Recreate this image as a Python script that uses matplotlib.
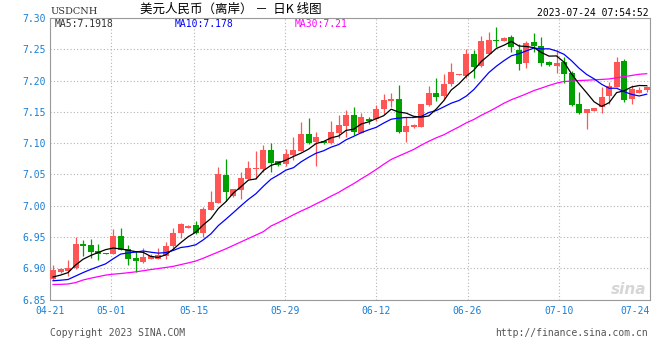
import numpy as np
import pandas as pd
import matplotlib
matplotlib.use("Agg")
import matplotlib.pyplot as plt

# ---------------- data ----------------
opens = [6.8825, 6.8932, 6.8953, 6.8996, 6.9395, 6.9374, 6.9278, 6.9246, 6.9230, 6.9518,
         6.9305, 6.9166, 6.9102, 6.9145, 6.9155, 6.9198, 6.9357, 6.9570, 6.9635, 6.9688,
         6.9560, 6.9933, 7.0050, 7.0492, 7.0150, 7.0252, 7.0428, 7.0593, 7.0593, 7.0891,
         7.0710, 7.0667, 7.0812, 7.0881, 7.1147, 7.1025, 7.1030, 7.0998, 7.1158, 7.1275,
         7.1451, 7.1169, 7.1387, 7.1381, 7.1541, 7.1680, 7.1706, 7.1184, 7.1253, 7.1253,
         7.1605, 7.1802, 7.1749, 7.1951, 7.2095, 7.2068, 7.2425, 7.2228, 7.2425, 7.2649,
         7.2638, 7.2691, 7.2494, 7.2281, 7.2610, 7.2553, 7.2298, 7.2234, 7.2298, 7.2117,
         7.1627, 7.1488, 7.1520, 7.1573, 7.1754, 7.1904, 7.2314, 7.1701, 7.1808, 7.1850]
highs = [6.9054, 6.9000, 6.9134, 6.9496, 6.9454, 6.9470, 6.9390, 6.9250, 6.9624, 6.9640,
         6.9370, 6.9283, 6.9321, 6.9230, 6.9320, 6.9420, 6.9650, 6.9730, 6.9690, 6.9762,
         6.9986, 7.0236, 7.0614, 7.0747, 7.0270, 7.0540, 7.0715, 7.0870, 7.0970, 7.1000,
         7.0720, 7.0912, 7.1094, 7.1344, 7.1397, 7.1170, 7.1040, 7.1360, 7.1451, 7.1530,
         7.1573, 7.1488, 7.1424, 7.1610, 7.1786, 7.1807, 7.1935, 7.1424, 7.1300, 7.1630,
         7.1908, 7.2042, 7.2105, 7.2281, 7.2110, 7.2510, 7.2494, 7.2707, 7.2776, 7.2851,
         7.2697, 7.2723, 7.2585, 7.2638, 7.2765, 7.2700, 7.2310, 7.2489, 7.2372, 7.2159,
         7.1824, 7.1545, 7.1568, 7.1904, 7.1983, 7.2383, 7.2340, 7.1930, 7.1904, 7.1914]
lows = [6.8815, 6.8925, 6.8878, 6.8990, 6.9198, 6.9160, 6.9134, 6.9232, 6.9220, 6.9290,
        6.9050, 6.8942, 6.9080, 6.9140, 6.9140, 6.9140, 6.9300, 6.9480, 6.9635, 6.9550,
        6.9496, 6.9930, 7.0040, 7.0082, 7.0135, 7.0114, 7.0420, 7.0430, 7.0545, 7.0534,
        7.0640, 7.0640, 7.0732, 7.0880, 7.0990, 7.0636, 7.0990, 7.0990, 7.1078, 7.1094,
        7.1131, 7.1160, 7.1307, 7.1360, 7.1467, 7.1584, 7.1169, 7.1025, 7.1240, 7.1250,
        7.1589, 7.1669, 7.1695, 7.1908, 7.2090, 7.2042, 7.2042, 7.2220, 7.2420, 7.2531,
        7.2627, 7.2457, 7.2175, 7.2201, 7.2450, 7.2234, 7.2240, 7.2117, 7.1957, 7.1595,
        7.1467, 7.1222, 7.1515, 7.1478, 7.1627, 7.1900, 7.1664, 7.1627, 7.1797, 7.1824]
closes = [6.8974, 6.8985, 6.9006, 6.9390, 6.9363, 6.9267, 6.9230, 6.9235, 6.9518, 6.9294,
          6.9155, 6.9123, 6.9177, 6.9198, 6.9214, 6.9358, 6.9570, 6.9704, 6.9677, 6.9570,
          6.9949, 7.0066, 7.0508, 7.0220, 7.0268, 7.0444, 7.0603, 7.0603, 7.0886, 7.0678,
          7.0646, 7.0832, 7.0892, 7.1147, 7.0998, 7.1094, 7.0998, 7.1184, 7.1291, 7.1451,
          7.1184, 7.1413, 7.1360, 7.1541, 7.1690, 7.1706, 7.1184, 7.1275, 7.1285, 7.1626,
          7.1802, 7.1738, 7.1946, 7.2137, 7.2105, 7.2425, 7.2223, 7.2638, 7.2643, 7.2638,
          7.2680, 7.2531, 7.2270, 7.2601, 7.2550, 7.2287, 7.2244, 7.2287, 7.2106, 7.1611,
          7.1488, 7.1541, 7.1557, 7.1733, 7.1914, 7.2292, 7.1690, 7.1858, 7.1850, 7.1900]

# moving-average values before enough history is visible
ma5_head = [6.8860, 6.8890, 6.8930, 6.9050]
ma10_head = [6.8800, 6.8808, 6.8820, 6.8875, 6.8930, 6.8980, 6.9025, 6.9070, 6.9150]
ma30_head = [6.8740, 6.8742, 6.8748, 6.8770, 6.8812, 6.8840, 6.8865, 6.8890, 6.8905, 6.8915,
             6.8928, 6.8942, 6.8960, 6.8978, 6.8995, 6.9012, 6.9030, 6.9058, 6.9085, 6.9115,
             6.9160, 6.9210, 6.9260, 6.9310, 6.9365, 6.9420, 6.9475, 6.9530, 6.9585]

tick_labels = ["04-21", "05-01", "05-15", "05-29", "06-12", "06-26", "07-10", "07-24"]
tick_candles = [0, 8, 19, 31, 43, 55, 67, 79]
y_ticks = [6.85, 6.90, 6.95, 7.00, 7.05, 7.10, 7.15, 7.20, 7.25, 7.30]

ma_labels = ["MA5:7.1918", "MA10:7.178", "MA30:7.21"]
title_cn = "美元人民币（离岸） －  日K 线图"
symbol = "USDCNH"
stamp = "2023-07-24 07:54:52"

# ---------------- figure ----------------
W, H = 660, 360
fig = plt.figure(figsize=(W / 100, H / 100), dpi=100)
fig.patch.set_facecolor("white")


def px(x, y):
    return x / W, 1 - y / H


L, R, T, B = 50, 649.7, 18, 299.5
ax = fig.add_axes([L / W, 1 - B / H, (R - L) / W, (B - T) / H])

n = len(closes)
idx = np.arange(n)
o = np.array(opens)
c = np.array(closes)
h = np.array(highs)
lo = np.array(lows)

RED = "#ff5555"
GREEN = "#00a000"
up = c >= o
colors = np.where(up, RED, GREEN)

body_bottom = np.minimum(o, c)
body_h = np.maximum(np.abs(c - o), 0.0014)

ax.vlines(idx, lo, h, colors=colors, linewidth=0.9, zorder=3)
ax.bar(idx, body_h, bottom=body_bottom, width=0.8, color=colors, linewidth=0, zorder=3)

s = pd.Series(closes)
ma5 = s.rolling(5).mean().to_numpy()
ma10 = s.rolling(10).mean().to_numpy()
ma30 = s.rolling(30).mean().to_numpy()
ma5[:len(ma5_head)] = ma5_head
ma10[:len(ma10_head)] = ma10_head
ma30[:len(ma30_head)] = ma30_head

ax.plot(idx, ma30, color="#ff00ff", linewidth=0.9, zorder=4)
ax.plot(idx, ma10, color="#0000ff", linewidth=0.9, zorder=5)
ax.plot(idx, ma5, color="black", linewidth=0.9, zorder=6)

xmin, xmax = -0.4, n - 1 + 0.4
ax.set_xlim(xmin, xmax)
ax.set_ylim(6.85, 7.30)

# grid positions spread evenly over the full width
span = xmax - xmin
grid_x = [xmin + k * span / (n - 1) for k in tick_candles]

ax.set_xticks(grid_x)
ax.set_xticklabels(tick_labels)
ax.set_yticks(y_ticks)
ax.set_yticklabels([f"{v:.2f}" for v in y_ticks])

LBL = "#1a7fd4"
ax.tick_params(axis="both", length=0, labelsize=7, labelcolor=LBL)
ax.tick_params(axis="x", pad=5)
ax.tick_params(axis="y", pad=3)
for t in ax.get_xticklabels() + ax.get_yticklabels():
    t.set_fontfamily("DejaVu Sans Mono")
xt = ax.get_xticklabels()
xt[-1].set_ha("right")

ax.set_axisbelow(True)
ax.grid(True, color="#b4b4b4", linestyle=(0, (1, 2)), linewidth=0.8)

for side in ["left", "top"]:
    ax.spines[side].set_color("#9a9a9a")
    ax.spines[side].set_linewidth(0.8)
for side in ["right", "bottom"]:
    ax.spines[side].set_color("#9a9a9a")
    ax.spines[side].set_linewidth(0.8)
    ax.spines[side].set_linestyle((0, (1, 1)))

# ---------------- texts ----------------
mono = "DejaVu Sans Mono"
fig.text(*px(51, 11.5), symbol, fontsize=7, family="DejaVu Serif", color="#333333", va="center", ha="left")
fig.text(*px(140, 9.5), title_cn, fontsize=9, family=["Noto Sans CJK SC", "DejaVu Sans"],
         color="black", va="center", ha="left")
fig.text(*px(649, 12.5), stamp, fontsize=7, family=mono, color="black", va="center", ha="right")

fig.text(*px(55, 24), ma_labels[0], fontsize=7, family=mono, color="#333333", va="center")
fig.text(*px(175, 24), ma_labels[1], fontsize=7, family=mono, color="#0000ff", va="center")
fig.text(*px(295, 24), ma_labels[2], fontsize=7, family=mono, color="#ff00ff", va="center")

fig.text(*px(50, 333), "Copyright 2023 SINA.COM", fontsize=7, family=mono, color="#555555", va="center")
fig.text(*px(648, 333), "http://finance.sina.com.cn", fontsize=7, family=mono, color="#555555",
         va="center", ha="right")
fig.text(*px(646, 290), "sina", fontsize=11, fontstyle="italic", fontweight="bold",
         color="#d6d6d6", va="center", ha="right", zorder=1)

fig.savefig("out.png", dpi=100, facecolor="white")
